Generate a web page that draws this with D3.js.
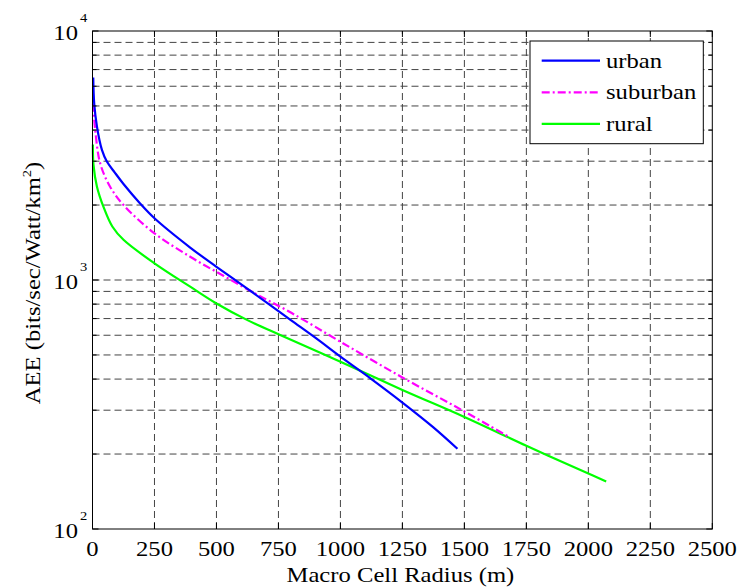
<!DOCTYPE html>
<html>
<head>
<meta charset="utf-8">
<script src="https://cdn.jsdelivr.net/npm/d3@7"></script>
<style>
  html, body { margin: 0; padding: 0; background: #fff; }
  svg { display: block; }
</style>
</head>
<body>
<svg id="chart" width="739" height="588"></svg>
<script>
// Macro cell radius (m) and area energy efficiency for three environments
const urbanRadius   = [3, 7, 18, 38, 58, 90, 125, 192, 250, 394, 500, 600, 700, 800, 900, 1000, 1125, 1250, 1375, 1472];
const urbanAEE      = [6500, 5100, 4130, 3330, 2990, 2700, 2430, 2030, 1770, 1350, 1130, 960, 815, 690, 585, 492, 400, 322, 256, 210];

const suburbanRadius = [2, 11, 31, 71, 125, 250, 394, 528, 663, 800, 1000, 1250, 1483, 1684];
const suburbanAEE    = [5100, 4000, 2940, 2370, 2000, 1540, 1240, 1040, 875, 740, 565, 406, 303, 233];

const ruralRadius = [1.5, 4, 18, 44, 80, 125, 250, 394, 500, 625, 757, 1000, 1250, 1500, 1750, 2000, 2072];
const ruralAEE    = [3500, 2900, 2370, 1970, 1640, 1450, 1167, 940, 805, 690, 601, 470, 362, 282, 216, 167, 155];

const xTicks = [0, 250, 500, 750, 1000, 1250, 1500, 1750, 2000, 2250, 2500];
const yDecades = [100, 1000, 10000];
const yMinor = [200, 300, 400, 500, 600, 700, 800, 900, 2000, 3000, 4000, 5000, 6000, 7000, 8000, 9000];

const seriesNames = ["urban", "suburban", "rural"];
const seriesColors = ["#0000ff", "#ff00ff", "#00ff00"];
const seriesDash = [null, "8,3,2,3", null];

const FONT = "'Liberation Serif', 'Times New Roman', Times, serif";
const FS = 22;

const svg = d3.select("#chart");
const plotL = 92.5, plotR = 712.3, plotT = 31, plotB = 529;

const x = d3.scaleLinear().domain([0, 2500]).range([plotL, plotR]);
const y = d3.scaleLog().domain([100, 10000]).range([plotB, plotT]);

const xStretch = 1.12;
function label(g, tx, ty, str, anchor, size) {
  return g.append("text")
    .attr("transform", `translate(${tx},${ty}) scale(${xStretch},1)`)
    .attr("text-anchor", anchor)
    .attr("font-family", FONT)
    .attr("font-size", size)
    .attr("fill", "#000")
    .text(str);
}

// grid
const grid = svg.append("g").attr("stroke", "#444").attr("stroke-width", 1)
  .attr("stroke-dasharray", "7,4").attr("fill", "none");
xTicks.slice(1, -1).forEach(t => {
  grid.append("line").attr("x1", x(t)).attr("x2", x(t)).attr("y1", plotB).attr("y2", plotT);
});
yMinor.concat([1000]).forEach(t => {
  grid.append("line").attr("x1", plotL).attr("x2", plotR).attr("y1", y(t)).attr("y2", y(t));
});

// curves
const lineGen = d3.line().x(d => x(d[0])).y(d => y(d[1])).curve(d3.curveCatmullRom.alpha(0.5));
const series = [
  d3.zip(urbanRadius, urbanAEE),
  d3.zip(suburbanRadius, suburbanAEE),
  d3.zip(ruralRadius, ruralAEE)
];
const drawOrder = [2, 1, 0];
drawOrder.forEach(i => {
  svg.append("path").datum(series[i])
    .attr("d", lineGen)
    .attr("fill", "none")
    .attr("stroke", seriesColors[i])
    .attr("stroke-width", 2.2)
    .attr("stroke-dasharray", seriesDash[i]);
});

// axes box and inward ticks
const ax = svg.append("g").attr("stroke", "#000").attr("stroke-width", 1).attr("fill", "none");
ax.append("rect").attr("x", plotL).attr("y", plotT).attr("width", plotR - plotL).attr("height", plotB - plotT);
xTicks.forEach(t => {
  ax.append("line").attr("x1", x(t)).attr("x2", x(t)).attr("y1", plotB).attr("y2", plotB - 6);
  ax.append("line").attr("x1", x(t)).attr("x2", x(t)).attr("y1", plotT).attr("y2", plotT + 6);
});
yDecades.concat(yMinor).forEach(t => {
  const len = yDecades.includes(t) ? 6 : 4;
  ax.append("line").attr("x1", plotL).attr("x2", plotL + len).attr("y1", y(t)).attr("y2", y(t));
  ax.append("line").attr("x1", plotR).attr("x2", plotR - len).attr("y1", y(t)).attr("y2", y(t));
});

// tick labels
const labels = svg.append("g");
xTicks.forEach(t => label(labels, x(t), plotB + 27, String(t), "middle", FS));
yDecades.forEach(t => {
  const yy = y(t);
  label(labels, 78, yy + 9, "10", "end", FS);
  label(labels, 80, yy - 9, String(Math.round(Math.log10(t))), "start", 13);
});

// axis titles
label(labels, (plotL + plotR) / 2 - 2, 582, "Macro Cell Radius (m)", "middle", FS);
const yl = labels.append("text")
  .attr("transform", `translate(40,283) rotate(-90) scale(${xStretch},1)`)
  .attr("text-anchor", "middle")
  .attr("font-family", FONT)
  .attr("font-size", FS)
  .attr("fill", "#000");
yl.append("tspan").text("AEE (bits/sec/Watt/km");
yl.append("tspan").attr("dy", -9).attr("font-size", 13).text("2");
yl.append("tspan").attr("dy", 9).text(")");

// legend
const lg = svg.append("g");
lg.append("rect").attr("x", 530).attr("y", 41).attr("width", 173.3).attr("height", 102.7)
  .attr("fill", "#fff").attr("stroke", "#000").attr("stroke-width", 1);
seriesNames.forEach((name, i) => {
  const ly = 60.7 + i * 31.6;
  lg.append("line").attr("x1", 541.7).attr("x2", 600).attr("y1", ly).attr("y2", ly)
    .attr("stroke", seriesColors[i]).attr("stroke-width", 2.2)
    .attr("stroke-dasharray", seriesDash[i]);
  label(lg, 606, ly + 7, name, "start", FS);
});
</script>
</body>
</html>
